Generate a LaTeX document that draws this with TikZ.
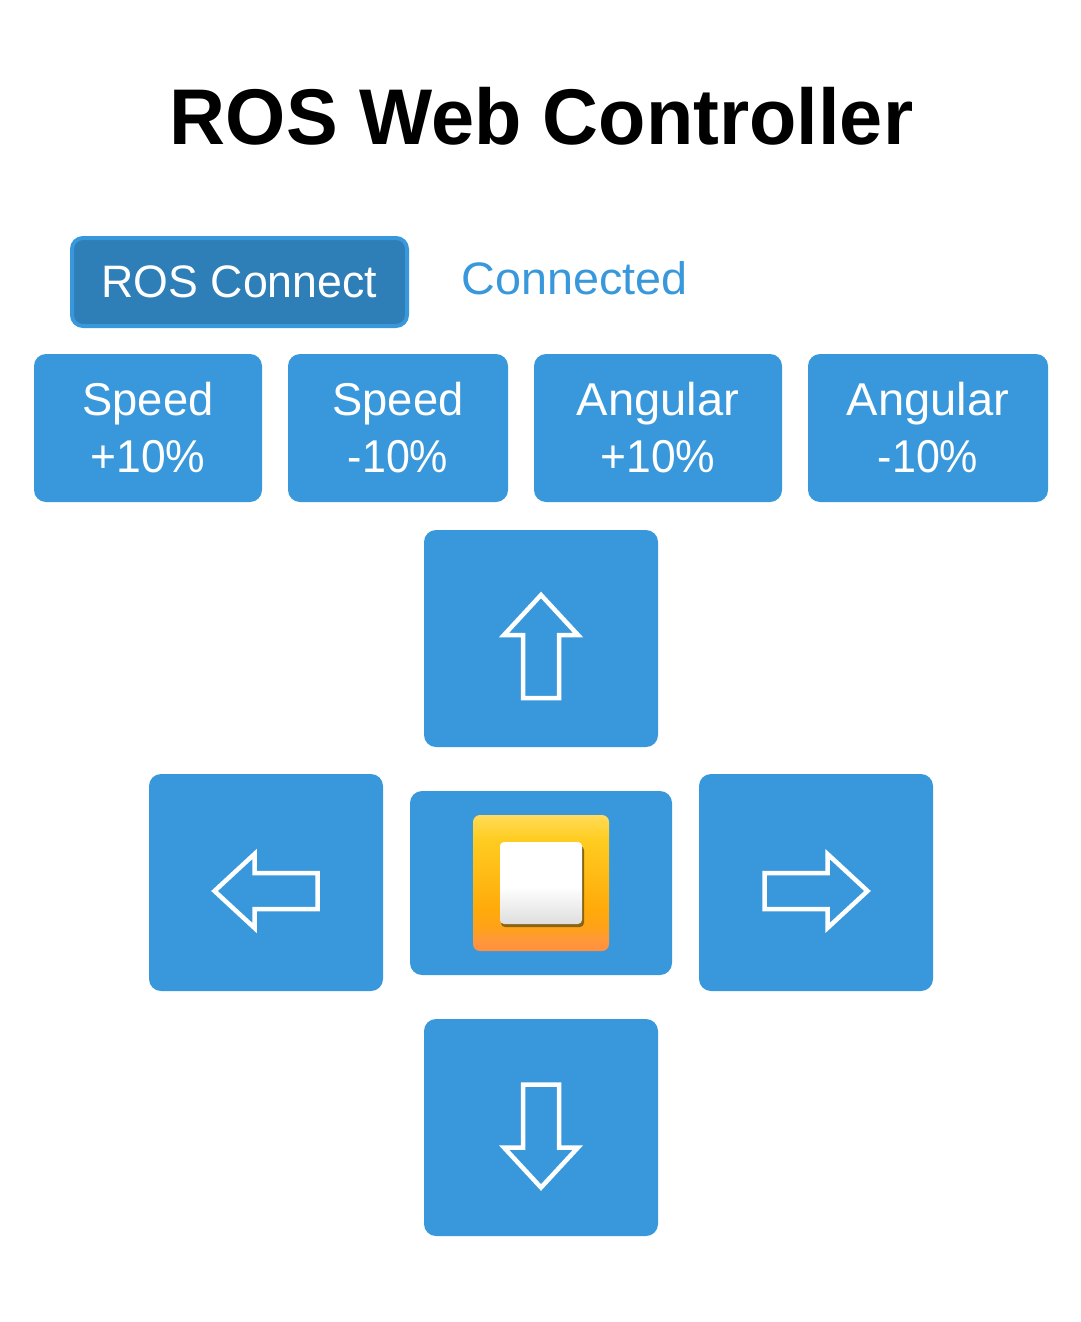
\documentclass[tikz,border=0pt]{standalone}
\usepackage{fontspec}
\usepackage{graphicx}
\setmainfont{Liberation Sans}
\newcommand{\fitx}[2]{\scalebox{#1}[1]{#2}}
\definecolor{btn}{HTML}{3898DB}
\definecolor{btndark}{HTML}{2E7EB8}
\definecolor{stopP}{HTML}{FF8F42}
\definecolor{stopQ}{HTML}{FF9A35}
\definecolor{stopR}{HTML}{FFA01C}
\definecolor{stopS}{HTML}{FFAA0A}
\definecolor{stopT}{HTML}{FFCC20}
\definecolor{stopU}{HTML}{FFD84A}
\definecolor{stopV}{HTML}{FFDC60}
\definecolor{keyA}{HTML}{FFFFFF}
\definecolor{keyB}{HTML}{DEDEDE}
\definecolor{keyshadow}{HTML}{8A6410}
\pgfdeclareverticalshading{stopgrad}{100bp}{
  color(0bp)=(stopP);
  color(25bp)=(stopP);
  color(30bp)=(stopQ);
  color(32.5bp)=(stopR);
  color(40bp)=(stopS);
  color(66bp)=(stopT);
  color(73bp)=(stopU);
  color(75bp)=(stopV);
  color(100bp)=(stopV)}
\pgfdeclareverticalshading{whitegrad}{100bp}{
  color(0bp)=(keyB);
  color(25bp)=(keyB);
  color(48bp)=(keyA);
  color(100bp)=(keyA)}
\tikzset{
  btnbox/.style={fill=btn,rounded corners=12pt,inner sep=0pt,text=white,align=center,
    font=\fontsize{46}{57}\selectfont},
  connectbox/.style={fill=btndark,draw=btn,line width=4pt,rounded corners=11pt,inner sep=0pt,
    text=white,font=\fontsize{45.5}{54}\selectfont},
  arrowglyph/.pic={
    \draw[white,line width=4.5pt,miter limit=10,line join=miter]
      (0,-51) -- (37,-11) -- (18,-11) -- (18,52) -- (-18,52) -- (-18,-11) -- (-37,-11) -- cycle;
  }
}
\begin{document}
\begin{tikzpicture}[x=1pt,y=-1pt]
\useasboundingbox (0,0) rectangle (1080,1322);
\fill[white] (0,0) rectangle (1080,1322);
\node[inner sep=0pt,font=\fontsize{79}{90}\selectfont\bfseries,anchor=base] (title) at (541.5,144) {\fitx{0.981}{ROS Web Controller}};
\node[connectbox,minimum width=335pt,minimum height=88pt] (connect) at (239.5,282) {\fitx{0.982}{ROS Connect}};
\node[inner sep=0pt,text=btn,anchor=base,font=\fontsize{45.5}{54}\selectfont] (status) at (574.5,294) {\fitx{1.027}{Connected}};
\node[btnbox,minimum width=228pt,minimum height=148pt] (speedup) at (148,428) {\fitx{0.985}{Speed}\\\fitx{0.966}{+10\%}};
\node[btnbox,minimum width=220pt,minimum height=148pt] (speeddown) at (398,428) {\fitx{0.985}{Speed}\\\fitx{0.935}{-10\%}};
\node[btnbox,minimum width=248pt,minimum height=148pt] (angup) at (658,428) {\fitx{1.025}{Angular}\\\fitx{0.966}{+10\%}};
\node[btnbox,minimum width=240pt,minimum height=148pt] (angdown) at (928,428) {\fitx{1.025}{Angular}\\\fitx{0.935}{-10\%}};
\node[btnbox,minimum width=234pt,minimum height=217pt] (up) at (541,638.5) {};
\node[btnbox,minimum width=234pt,minimum height=217pt] (left) at (266,882.5) {};
\node[btnbox,minimum width=262pt,minimum height=184pt] (stop) at (541,883) {};
\node[btnbox,minimum width=234pt,minimum height=217pt] (right) at (816,882.5) {};
\node[btnbox,minimum width=234pt,minimum height=217pt] (down) at (541,1127.5) {};
\pic at ([yshift=-7.5pt]up.center) {arrowglyph};
\pic[rotate=90] at ([shift={(-0.5pt,-8.5pt)}]left.center) {arrowglyph};
\pic[rotate=-90] at ([shift={(0.5pt,-8.5pt)}]right.center) {arrowglyph};
\pic[rotate=180] at ([yshift=-9pt]down.center) {arrowglyph};
% stop emoji
\node[shading=stopgrad,rounded corners=7pt,minimum width=136pt,minimum height=136pt,inner sep=0pt] (stopframe) at (541,883) {};
\fill[keyshadow,rounded corners=4pt] (501,846) rectangle (584,927);
\node[shading=whitegrad,rounded corners=4pt,minimum width=82pt,minimum height=82pt,inner sep=0pt] (stopkey) at (541,883) {};
\end{tikzpicture}
\end{document}
